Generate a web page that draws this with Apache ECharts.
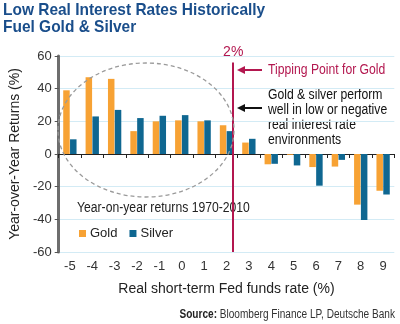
<!DOCTYPE html>
<html>
<head>
<meta charset="utf-8">
<script src="https://cdn.jsdelivr.net/npm/echarts@6/dist/echarts.min.js"></script>
<style>
html, body { margin: 0; padding: 0; background: #fff; }
#chart { width: 400px; height: 324px; }
</style>
</head>
<body>
<div id="chart"></div>
<script>
// Real short-term Fed funds rate buckets (%)
const rates = ['-5', '-4', '-3', '-2', '-1', '0', '1', '2', '3', '4', '5', '6', '7', '8', '9'];
// Average year-on-year returns (%), 1970-2010
const gold   = [39, 47, 46, 14, 20, 20.6, 20, 17.6, 7, -6.3, -0.5, -8, -7.7, -31, -22.5];
const silver = [9, 23, 27, 22, 23.4, 23.8, 20.6, 14, 9.3, -6, -7, -19.4, -3.6, -40.4, -24.8];
// Value axis ticks
const yMin = -60, yMax = 60, yStep = 20;
// Threshold rate marked on the chart (%)
const tippingPoint = 2;

const FONT = "'Liberation Sans', Arial, sans-serif";
const GOLD = '#f7a234';
const SILVER = '#0f6791';
const CRIMSON = '#b3174f';
const NARROW_X = 0.87; // horizontal squeeze for a condensed look

const chart = echarts.init(document.getElementById('chart'), null, { renderer: 'canvas' });

function arrow(x1, x2, y, color) {
  return {
    type: 'group',
    children: [
      { type: 'line', shape: { x1: x1 + 5, y1: y, x2: x2, y2: y }, style: { stroke: color, lineWidth: 2 } },
      { type: 'polygon', shape: { points: [[x1, y], [x1 + 8, y - 4], [x1 + 8, y + 4]] }, style: { fill: color } }
    ]
  };
}

function note(x, y, text, font, fill, extra) {
  return {
    type: 'text',
    x: x,
    y: y,
    scaleX: NARROW_X,
    style: Object.assign({ text: text, font: font, fill: fill, textAlign: 'left', textVerticalAlign: 'top' }, extra || {})
  };
}

const option = {
  animation: false,
  grid: { left: 54.3, right: 5.7, top: 56, bottom: 72, containLabel: false },
  xAxis: [
    {
      // labels along the bottom edge
      type: 'category',
      data: rates,
      position: 'bottom',
      boundaryGap: true,
      axisLine: { show: false, onZero: false },
      axisTick: { show: false },
      splitLine: { show: false },
      axisLabel: { color: '#333', fontSize: 13, fontFamily: FONT, margin: 8 },
      name: 'Real short-term Fed funds rate (%)',
      nameLocation: 'middle',
      nameGap: 30,
      nameTextStyle: { color: '#222', fontSize: 14, fontFamily: FONT }
    },
    {
      // baseline at zero with category ticks
      type: 'category',
      data: rates,
      position: 'bottom',
      boundaryGap: true,
      axisLine: { show: true, onZero: true, lineStyle: { color: '#222', width: 1 } },
      axisTick: { show: true, length: 4, lineStyle: { color: '#222' } },
      axisLabel: { show: false },
      splitLine: { show: false }
    },
    {
      // continuous rate scale for the threshold marker
      type: 'value',
      show: false,
      min: -5.8,
      max: 9.2,
      axisLine: { onZero: false },
      splitLine: { show: false }
    }
  ],
  yAxis: {
    type: 'value',
    min: yMin,
    max: yMax,
    interval: yStep,
    axisLine: { show: true, onZero: false, lineStyle: { color: '#6e6e6e', width: 3 } },
    axisTick: { show: true, length: 4, lineStyle: { color: '#555' } },
    axisLabel: { color: '#333', fontSize: 13, fontFamily: FONT, margin: 7 },
    splitLine: { show: true, lineStyle: { color: '#d3ebf5', width: 1 } },
    name: 'Year-over-Year Returns (%)',
    nameLocation: 'middle',
    nameGap: 29,
    nameTextStyle: { color: '#222', fontSize: 14, fontFamily: FONT }
  },
  legend: {
    left: 74,
    top: 222,
    icon: 'rect',
    itemWidth: 7,
    itemHeight: 7,
    itemGap: 12,
    textStyle: { color: '#222', fontSize: 13, fontFamily: FONT, padding: [0, 0, 0, -1] },
    data: ['Gold', 'Silver']
  },
  series: [
    {
      name: 'Gold',
      type: 'bar',
      xAxisIndex: 0,
      data: gold,
      barWidth: 6.5,
      barGap: '5%',
      itemStyle: { color: GOLD }
    },
    {
      name: 'Silver',
      type: 'bar',
      xAxisIndex: 0,
      data: silver,
      barWidth: 6.5,
      barGap: '5%',
      itemStyle: { color: SILVER }
    },
    {
      name: 'threshold',
      type: 'line',
      xAxisIndex: 2,
      data: [],
      silent: true,
      markLine: {
        symbol: 'none',
        silent: true,
        lineStyle: { color: CRIMSON, width: 2, type: 'solid' },
        label: {
          position: 'end',
          formatter: tippingPoint + '%',
          color: CRIMSON,
          fontSize: 14,
          fontFamily: FONT,
          distance: 3
        },
        data: [[{ coord: [tippingPoint, yMin] }, { coord: [tippingPoint, 56] }]]
      }
    }
  ],
  graphic: [
    {
      type: 'text',
      x: 3,
      y: 2,
      scaleX: 0.91,
      style: {
        text: 'Low Real Interest Rates Historically\nFuel Gold & Silver',
        font: 'bold 17px ' + FONT,
        fill: '#1a4e8b',
        lineHeight: 17,
        textAlign: 'left',
        textVerticalAlign: 'top'
      }
    },
    {
      type: 'ellipse',
      shape: { cx: 146, cy: 130, rx: 88, ry: 67 },
      style: { fill: 'none', stroke: '#9a9a9a', lineWidth: 1.3, lineDash: [4, 3] },
      z: 10
    },
    arrow(237, 262, 70, CRIMSON),
    note(268, 63, 'Tipping Point for Gold', '14px ' + FONT, CRIMSON),
    arrow(237, 262, 108, '#111'),
    note(268, 88, 'Gold & silver perform\nwell in low or negative\nreal interest rate\nenvironments', '14px ' + FONT, '#111', { lineHeight: 15 }),
    note(77, 201, 'Year-on-year returns 1970-2010', '14px ' + FONT, '#222'),
    {
      type: 'text',
      x: 395,
      y: 309,
      scaleX: 0.84,
      style: {
        text: '{b|Source:} Bloomberg Finance LP, Deutsche Bank',
        font: '12px ' + FONT,
        fill: '#333',
        textAlign: 'right',
        textVerticalAlign: 'top',
        rich: {
          b: { font: 'bold 12px ' + FONT, fill: '#222' }
        }
      }
    }
  ]
};

chart.setOption(option);
</script>
</body>
</html>
